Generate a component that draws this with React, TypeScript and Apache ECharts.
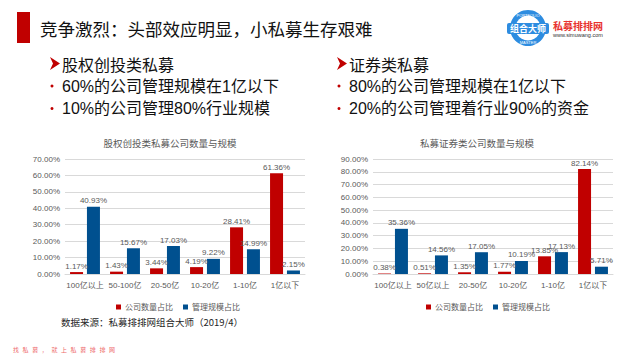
import React, { useEffect, useRef } from "react";
import * as echarts from "echarts";

const leftCategories = ["100亿以上", "50-100亿", "20-50亿", "10-20亿", "1-10亿", "1亿以下"];
const leftCompanyShare = [1.17, 1.43, 3.44, 4.19, 28.41, 61.36];
const leftAumShare = [40.93, 15.67, 17.03, 9.22, 14.99, 2.15];
const leftMax = 70;

const rightCategories = ["100亿以上", "50亿以上", "20-50亿", "10-20亿", "1-10亿", "1亿以下"];
const rightCompanyShare = [0.38, 0.51, 1.35, 1.77, 13.85, 82.14];
const rightAumShare = [35.36, 14.56, 17.05, 10.19, 17.13, 5.71];
const rightMax = 90;

const seriesNames = ["公司数量占比", "管理规模占比"];
const chartTitles = ["股权创投类私募公司数量与规模", "私募证券类公司数量与规模"];

const headline = "竞争激烈：头部效应明显，小私募生存艰难";
const leftHeading = "股权创投类私募";
const leftBullets = ["60%的公司管理规模在1亿以下", "10%的公司管理80%行业规模"];
const rightHeading = "证券类私募";
const rightBullets = ["80%的公司管理规模在1亿以下", "20%的公司管理着行业90%的资金"];
const sourceNote = "数据来源：私募排排网组合大师（2019/4）";
const footer = "找私募，就上私募排排网";

const RED = "#C00000";
const BLUE = "#00508F";
const GRAY = "#595959";
const FONT = '"Liberation Sans", Arial, "Noto Sans CJK SC", sans-serif';
const CJK = '"Noto Sans CJK SC", "Liberation Sans", sans-serif';

function App() {
  const ref = useRef<HTMLDivElement>(null);

  useEffect(() => {
    if (!ref.current) return;
    const chart = echarts.init(ref.current, null, { renderer: "svg" });

    const grids = [
      { left: 65, top: 159, width: 240, height: 115 },
      { left: 373, top: 159, width: 240, height: 115 },
    ];

    const xAxis = [leftCategories, rightCategories].map((cats, i) => ({
      type: "category",
      gridIndex: i,
      data: cats,
      axisTick: { show: false },
      axisLine: { lineStyle: { color: "#D9D9D9" } },
      axisLabel: { color: GRAY, fontSize: 8, fontFamily: FONT, margin: 7, interval: 0 },
    }));

    const yAxis = [leftMax, rightMax].map((mx, i) => ({
      type: "value",
      gridIndex: i,
      min: 0,
      max: mx,
      interval: 10,
      axisLine: { show: false },
      axisTick: { show: false },
      splitLine: { lineStyle: { color: "#D9D9D9", width: 1 } },
      axisLabel: {
        color: GRAY,
        fontSize: 8,
        fontFamily: FONT,
        margin: 5,
        formatter: (v: number) => v.toFixed(2) + "%",
      },
    }));

    const mkSeries = (name: string, data: number[], idx: number, color: string) => ({
      type: "bar",
      name,
      xAxisIndex: idx,
      yAxisIndex: idx,
      data,
      barWidth: 13,
      barGap: "30%",
      itemStyle: { color },
      label: {
        show: true,
        position: "top",
        distance: 2,
        color: GRAY,
        fontSize: 8,
        fontFamily: FONT,
        formatter: (p: any) => Number(p.value).toFixed(2) + "%",
      },
    });

    const series = [
      mkSeries(seriesNames[0], leftCompanyShare, 0, RED),
      mkSeries(seriesNames[1], leftAumShare, 0, BLUE),
      mkSeries(seriesNames[0], rightCompanyShare, 1, RED),
      mkSeries(seriesNames[1], rightAumShare, 1, BLUE),
    ];

    const legendBase = {
      data: seriesNames,
      icon: "rect",
      itemWidth: 5,
      itemHeight: 5,
      itemGap: 10,
      top: 298,
      textStyle: { color: GRAY, fontSize: 8, fontFamily: CJK, padding: [0, 0, 0, -1] },
      selectedMode: false,
    };

    const graphic: any[] = [];
    // header bar and headline
    graphic.push({ type: "rect", shape: { x: 17, y: 12, width: 13, height: 31 }, style: { fill: RED } });
    graphic.push({
      type: "text",
      x: 40,
      y: 28,
      style: { text: headline, font: `17.5px ${CJK}`, fill: "#111", textVerticalAlign: "middle" },
    });

    // logo
    graphic.push({ type: "circle", shape: { cx: 528, cy: 28, r: 18 }, style: { fill: "#2D8CE0" } });
    graphic.push({ type: "circle", shape: { cx: 528, cy: 28, r: 12.5 }, style: { fill: "#fff" } });
    graphic.push({ type: "rect", shape: { x: 507, y: 23, width: 42, height: 11, r: 2 }, style: { fill: "#2D8CE0" } });
    graphic.push({
      type: "text",
      x: 528,
      y: 28.5,
      style: { text: "组合大师", font: `bold 9px ${CJK}`, fill: "#fff", textAlign: "center", textVerticalAlign: "middle" },
    });
    graphic.push({
      type: "text",
      x: 528,
      y: 15,
      style: { text: "PORTFOLIO", font: `4px ${FONT}`, fill: "#fff", textAlign: "center", textVerticalAlign: "middle" },
    });
    graphic.push({
      type: "text",
      x: 528,
      y: 42,
      style: { text: "MASTER", font: `4px ${FONT}`, fill: "#fff", textAlign: "center", textVerticalAlign: "middle" },
    });
    graphic.push({
      type: "text",
      x: 553,
      y: 25,
      style: { text: "私募排排网", font: `bold 10px ${CJK}`, fill: "#E8322E", textVerticalAlign: "middle" },
    });
    graphic.push({
      type: "text",
      x: 553,
      y: 34.5,
      style: { text: "www.simuwang.com", font: `5.5px ${FONT}`, fill: "#333", textVerticalAlign: "middle" },
    });

    // subheadings and bullets
    const addBlock = (x: number, heading: string, bullets: string[]) => {
      graphic.push({
        type: "polygon",
        shape: { points: [[x, 57], [x + 10, 63.5], [x, 70], [x + 3, 63.5]] },
        style: { fill: RED },
      });
      graphic.push({
        type: "text",
        x: x + 12,
        y: 63.5,
        style: { text: heading, font: `16px ${CJK}`, fill: "#111", textVerticalAlign: "middle" },
      });
      bullets.forEach((b, i) => {
        const yy = 86 + i * 22.5;
        graphic.push({ type: "circle", shape: { cx: x + 2, cy: yy, r: 1.5 }, style: { fill: RED } });
        graphic.push({
          type: "text",
          x: x + 12,
          y: yy,
          style: { text: b, font: `16px ${FONT}`, fill: "#111", textVerticalAlign: "middle" },
        });
      });
    };
    addBlock(50, leftHeading, leftBullets);
    addBlock(337, rightHeading, rightBullets);

    // chart titles
    [170, 477].forEach((cx, i) => {
      graphic.push({
        type: "text",
        x: cx,
        y: 143,
        style: { text: chartTitles[i], font: `9.5px ${CJK}`, fill: GRAY, textAlign: "center", textVerticalAlign: "middle" },
      });
    });

    // source note
    graphic.push({
      type: "text",
      x: 61,
      y: 322,
      style: { text: sourceNote, font: `9.5px ${CJK}`, fill: "#262626", textVerticalAlign: "middle" },
    });

    // footer
    Array.from(footer).forEach((ch, i) => {
      graphic.push({
        type: "text",
        x: 13 + i * 9.6,
        y: 349,
        style: { text: ch, font: `6px ${CJK}`, fill: "#EE6B6B", textVerticalAlign: "middle" },
      });
    });

    chart.setOption({
      animation: false,
      backgroundColor: "#ffffff",
      grid: grids,
      xAxis,
      yAxis,
      series,
      legend: [
        { ...legendBase, left: 111 },
        { ...legendBase, left: 421 },
      ],
      graphic,
    });

    return () => chart.dispose();
  }, []);

  return (
    <div
      ref={ref}
      style={{ position: "fixed", left: 0, top: 0, width: 640, height: 360, background: "#fff" }}
    />
  );
}

export default App;
